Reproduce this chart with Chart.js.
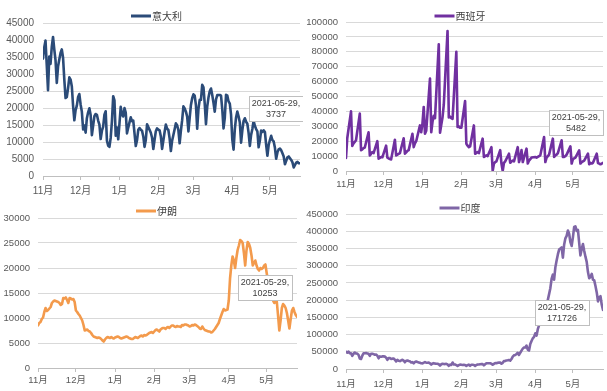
<!DOCTYPE html>
<html><head><meta charset="utf-8">
<script src="https://cdn.jsdelivr.net/npm/chart.js@4.4.0/dist/chart.umd.min.js"></script>
<style>
html,body{margin:0;padding:0;background:#fff;width:607px;height:391px;overflow:hidden}
canvas{position:absolute;display:block}
</style></head><body>
<canvas id="c1" width="303" height="195" style="left:0;top:0"></canvas>
<canvas id="c2" width="304" height="195" style="left:303px;top:0"></canvas>
<canvas id="c3" width="303" height="196" style="left:0;top:195px"></canvas>
<canvas id="c4" width="304" height="196" style="left:303px;top:195px"></canvas>
<script>
// ---- data (daily, 2020-11-05 .. 2021-05-29) ----
const tickDays = [0, 30, 61, 92, 120, 151, 181];
const tickLabels = ['11月','12月','1月','2月','3月','4月','5月'];
const lastDate = '2021-05-29';

const italy = [
34505,37809,39811,32616,25271,35098,32961,
37978,40902,37255,33979,27354,32191,34283,
36176,37242,34767,28337,22930,23232,25853,
29003,28352,26323,20648,16377,19350,20709,
23225,24099,21052,18887,13720,14842,12756,
16999,18727,19903,17938,12030,14844,17572,
18236,17992,16308,15104,10872,13318,14522,
18040,19037,10407,8913,8585,11212,16202,
23477,22211,11831,14245,10800,15378,20331,
18020,17533,19978,18627,12545,14242,15774,
17246,16146,16310,12545,8824,10497,13571,
14078,13633,13331,11629,8561,10593,15204,
14372,13574,12715,11252,7925,10630,13189,
14018,13659,13442,11641,7970,10404,12956,
15146,13908,13532,11068,7351,10386,12074,
13762,15479,14931,13452,9630,13314,16424,
20499,19886,18916,17455,13114,17083,20884,
22865,24036,23641,20765,13902,19749,22409,
22409,26824,26062,21315,15267,20396,23059,
24935,25735,23832,21500,18900,22500,23800,
23800,23839,23623,19611,14000,17000,23904,
23649,21932,21261,18025,10680,7767,13708,
17221,18938,17567,15746,9789,13447,16168,
16974,15943,15370,12694,8864,12074,13844,
16232,14761,13817,13158,8444,10404,13385,
12965,13446,12965,9148,5948,9116,10585,
11807,10554,10176,8292,5080,6946,7852,
8085,7567,6659,5753,3455,4452,5506,
5741,5218,4717,3995,2490,3224,3937,
4147,3738,3737];

const spain = [
8700,22000,null,null,
40000,16800,18500,19500,20600,null,null,
38500,13900,14500,15400,15800,null,null,
26000,10500,11500,12700,12000,null,null,
20000,8300,8800,9400,9200,null,null,
17000,9000,8500,8000,7800,null,null,
21000,10500,11000,11500,12000,null,null,
22000,11600,12500,13500,14000,null,null,
25000,16000,18500,20000,null,null,30600,
26000,32000,43000,25000,27000,null,null,
62000,26000,33000,37000,35500,null,null,
85000,25700,31000,36000,44500,null,null,
94000,36000,36500,35500,35000,null,null,
80000,29500,30000,29000,29000,null,null,
47000,18300,17000,16000,16500,null,null,
30600,11600,12000,12700,12000,null,null,
21700,9400,10000,10500,10000,null,null,
16000,0,5000,6000,6500,null,null,
14000,5000,0,5500,6500,null,null,
11600,5500,6500,7000,6500,null,null,
16000,6000,9000,14000,6000,null,null,
15000,5000,7000,8000,9000,null,null,
9400,9000,9500,10000,10500,null,null,
22800,6000,9000,10000,11000,null,null,
21700,9400,10500,11000,12000,null,null,
20600,9400,9500,10000,11000,null,null,
16500,5000,8000,8500,9000,null,null,
13900,5000,6000,6500,7000,null,null,
11600,4500,5500,5000,5500,null,null,
11600,5400,5000,4500,5000,5482];

const iran = [
8500,9000,9200,9800,10100,11200,12000,11400,11600,11900,
12200,13000,13300,13500,13400,13300,13200,13000,12600,12800,
14000,13900,14100,13600,13000,14000,13900,13700,13800,13200,
11500,11200,10800,10500,10000,9500,8600,7500,7600,7700,
7400,7300,7000,6600,6300,6200,6100,6000,6100,6000,
5800,5500,5300,5700,6000,6200,6100,6000,6200,6000,
5900,6100,6200,6300,6200,6000,5900,6000,6100,6200,
6300,6200,6000,5900,5800,5800,6000,6200,6100,6000,
6200,6400,6500,6300,6600,6500,6600,6800,7000,7100,
7200,7000,7300,7600,7700,7500,7300,7700,7900,8000,
8000,7800,8100,8200,8000,8300,8500,8500,8300,8200,
8400,8300,8300,8200,8600,8500,8700,8700,8600,8500,
8300,8400,8600,8500,8700,8600,8400,8200,7900,7800,
8300,7900,7600,7500,7400,7300,7300,7100,7200,7500,
7800,8200,8600,9000,9800,10500,11200,11800,11500,11600,
11700,13500,17900,20500,22300,21500,20000,22000,23600,24500,
25600,25400,25000,23000,20500,23500,25200,24800,24000,22500,
20500,21000,21500,20500,19800,19500,20000,19800,20000,20500,
20700,19000,17500,16000,14500,14000,13500,13000,13200,13300,
10500,7500,9500,12000,12800,12500,12000,11000,9500,7900,
9800,11500,12000,11200,10600,10253];

const india = [
50210,47638,50356,45674,45903,38073,44281,47905,44879,44684,41100,30548,29163,38617,45576,45882,46232,45209,44059,37975,44376,44489,43082,41322,41810,38772,
31118,36604,35551,36594,36652,36011,32981,26567,32080,31521,29398,30006,30254,27071,22065,26382,24010,22890,25152,26624,24337,19556,23950,24712,23067,22273,18732,20021,16432,20550,21822,
20035,19078,18177,16504,16375,18088,20346,18139,18222,18645,16311,12584,15968,16946,15590,15158,15144,13788,10064,13823,15223,14545,14256,14849,13203,9102,12689,11666,18855,13083,13052,
11427,8635,11039,12899,12408,11713,12059,11831,9110,11067,12923,9309,12143,12194,11649,9121,11610,12881,13193,13993,14264,14199,10584,13742,16738,16577,16488,16752,
15510,12286,14989,17407,16838,18327,18711,18599,15388,17921,22854,23285,24882,25320,26291,24492,28903,35871,39726,40953,43846,46951,40715,47262,53476,59118,62258,62714,68020,56211,53480,
72330,81466,89129,93249,103558,96982,115736,126789,131968,145384,152879,168912,161736,184372,200739,217353,234692,261500,273810,259170,295041,314835,332730,346786,349691,352991,323144,360960,379257,386452,
401993,392488,368147,357229,382315,412262,414188,401078,403738,366161,329942,348421,362727,343144,326098,311170,281386,263533,267334,276110,259551,257299,240842,222315,196427,208921,211298,186364,171726];

// ---- drawing ----
const FONT = '"Liberation Sans", "Noto Sans CJK SC", sans-serif';
const CJK = '"Noto Sans CJK SC", sans-serif';

function makeChart(id, c) {
  const n = c.values.length;
  const legendPlugin = {
    id: 'lg' + id,
    afterDraw(chart) {
      const ctx = chart.ctx;
      ctx.save();
      ctx.font = c.legendSize + 'px ' + CJK;
      const w = ctx.measureText(c.name).width;
      const total = 20 + 1 + w;
      const x0 = chart.width / 2 + 5 - total / 2;
      ctx.strokeStyle = c.color; ctx.lineWidth = 3;
      ctx.beginPath(); ctx.moveTo(x0, c.legendY); ctx.lineTo(x0 + 20, c.legendY); ctx.stroke();
      ctx.fillStyle = '#404040'; ctx.textBaseline = 'middle'; ctx.textAlign = 'left';
      ctx.fillText(c.name, x0 + 21, c.legendY + 0.5);
      ctx.restore();
    }
  };
  const labelPlugin = {
    id: 'lb' + id,
    afterDatasetsDraw(chart) {
      const meta = chart.getDatasetMeta(0);
      const pt = meta.data[n - 1];
      const ctx = chart.ctx;
      ctx.save();
      ctx.font = '9px ' + FONT;
      const lines = [lastDate + ',', String(c.values[n - 1])];
      const tw = Math.max(...lines.map(s => ctx.measureText(s).width));
      const bw = Math.round(tw + 5), bh = 25;
      const cx = pt.x + c.lab[0], cy = pt.y + c.lab[1];
      const bx = Math.round(cx - bw / 2) + 0.5, by = Math.round(cy - bh / 2) + 0.5;
      ctx.fillStyle = '#fff'; ctx.strokeStyle = '#BFBFBF'; ctx.lineWidth = 1;
      ctx.fillRect(bx, by, bw, bh); ctx.strokeRect(bx, by, bw, bh);
      ctx.fillStyle = '#404040'; ctx.textAlign = 'center'; ctx.textBaseline = 'middle';
      ctx.fillText(lines[0], cx, by + 7);
      ctx.fillText(lines[1], cx, by + 18);
      ctx.restore();
    }
  };
  return new Chart(document.getElementById(id), {
    type: 'line',
    data: { datasets: [{
      label: c.name,
      data: c.values.map((v, i) => ({ x: i, y: v })),
      borderColor: c.color, backgroundColor: c.color,
      borderWidth: 2.6, pointRadius: 0, tension: 0, spanGaps: true,
      borderJoinStyle: 'round', borderCapStyle: 'round'
    }]},
    options: {
      responsive: false, animation: false, events: [],
      layout: { autoPadding: false, padding: { left: 0, right: c.padR, top: c.padT, bottom: 0 } },
      plugins: { legend: { display: false }, tooltip: { enabled: false } },
      scales: {
        x: {
          type: 'linear', min: 0, max: n - 1,
          afterBuildTicks: s => { s.ticks = tickDays.map(v => ({ value: v })); },
          afterFit: s => { s.height = c.xH; },
          ticks: { autoSkip: false, maxRotation: 0, padding: c.xPad, color: '#595959',
                   font: { family: FONT, size: c.tick },
                   callback: v => { const k = tickDays.indexOf(v); return k >= 0 ? tickLabels[k] : ''; } },
          grid: { drawOnChartArea: false, drawTicks: true, tickLength: 4, color: '#BFBFBF' },
          border: { display: true, color: '#BFBFBF' }
        },
        y: {
          min: 0, max: c.yMax,
          afterFit: s => { s.width = c.yW; },
          ticks: { stepSize: c.step, padding: c.yPad, color: '#595959',
                   font: { family: FONT, size: c.tick }, callback: v => String(v) },
          grid: { color: '#D9D9D9', drawTicks: false },
          border: { display: false }
        }
      }
    },
    plugins: [legendPlugin, labelPlugin]
  });
}

makeChart('c1', { name: '意大利', values: italy, color: '#2B4B78', yMax: 45000, step: 5000,
  yW: 43, padR: 3, padT: 23, xH: 19, xPad: 5, yPad: 9, tick: 10, legendY: 16, legendSize: 10, lab: [-24, -55] });
makeChart('c2', { name: '西班牙', values: spain, color: '#7030A0', yMax: 100000, step: 10000,
  yW: 43, padR: 4, padT: 22, xH: 24, xPad: 4, yPad: 8, tick: 9.5, legendY: 16, legendSize: 10, lab: [-27, -40] });
makeChart('c3', { name: '伊朗', values: iran, color: '#F39A4C', yMax: 30000, step: 5000,
  yW: 38, padR: 6, padT: 23, xH: 23, xPad: 3, yPad: 8, tick: 9.5, legendY: 16, legendSize: 10, lab: [-32, -29] });
makeChart('c4', { name: '印度', values: india, color: '#7F66A6', yMax: 450000, step: 50000,
  yW: 43, padR: 4, padT: 19, xH: 22, xPad: 6, yPad: 8, tick: 9.5, legendY: 13, legendSize: 10, lab: [-41, 3] });
</script>
</body></html>
